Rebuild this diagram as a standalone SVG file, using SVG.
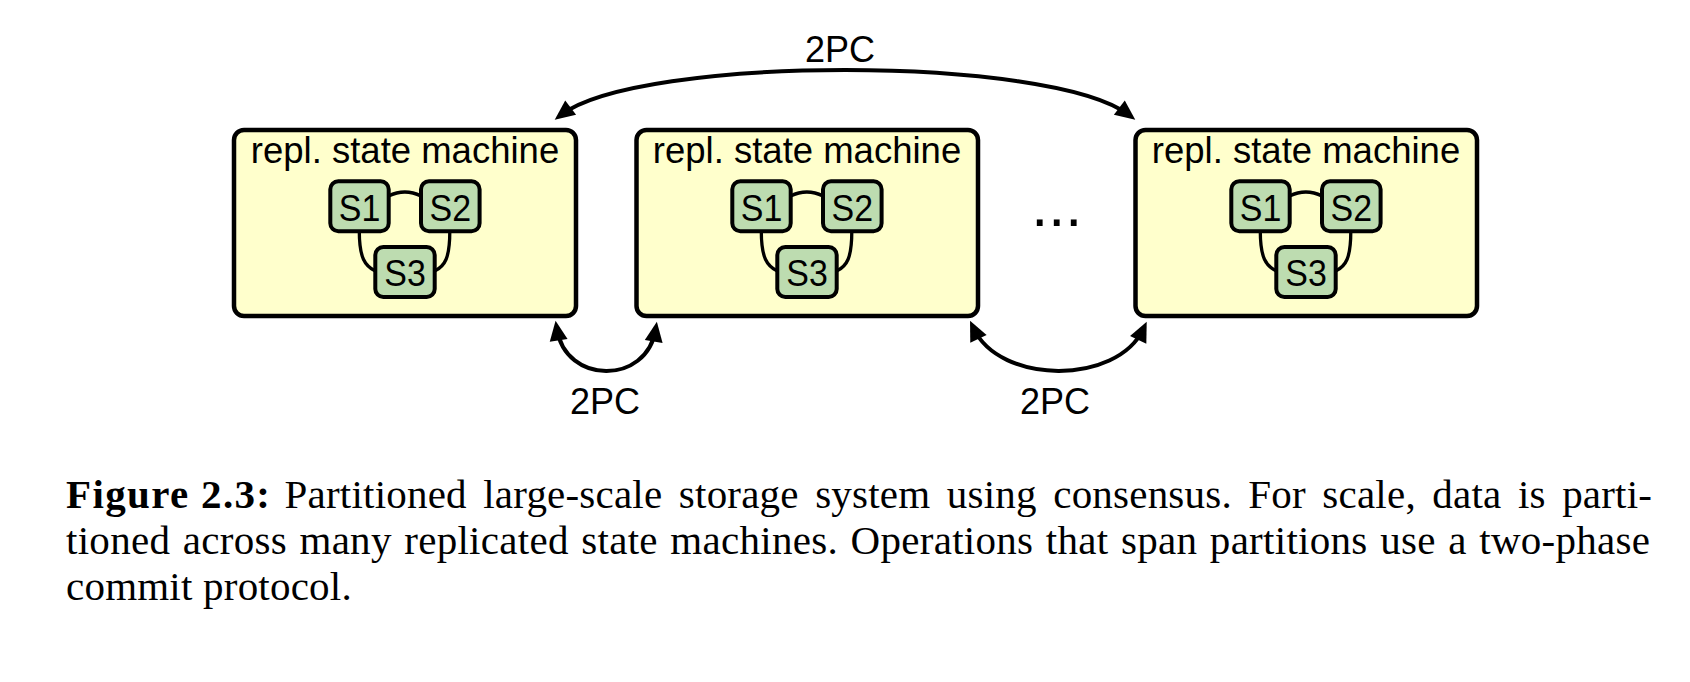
<svg xmlns="http://www.w3.org/2000/svg" width="1690" height="682" viewBox="0 0 1690 682">
<style>
.rsm{fill:#ffffcc;stroke:#000;stroke-width:4.5}
.srv{fill:#bddcb0;stroke:#000;stroke-width:4}
.lbl{font-family:"Liberation Sans",Arial,sans-serif;fill:#000}
.title{font-size:36.5px;text-anchor:middle}
.sl{font-size:37px;text-anchor:middle}
.pc{font-size:36px;text-anchor:middle}
.link{fill:none;stroke:#000;stroke-width:3.3}
.arr{fill:none;stroke:#000;stroke-width:4;marker-start:url(#ah);marker-end:url(#ah)}
.cap{font-family:"Liberation Serif","Times New Roman",serif;font-size:41px;fill:#000}
</style>
<defs>
<marker id="ah" markerUnits="userSpaceOnUse" viewBox="-14 -11 24 22" markerWidth="24" markerHeight="22" refX="0" refY="0" orient="auto-start-reverse">
<path d="M8,0 L-12,-9 L-12,9 z" fill="#000"/>
</marker>
</defs>
<rect width="1690" height="682" fill="#fff"/>
<g id="rsm1"><rect class="rsm" x="234" y="130" width="342" height="186" rx="10"/><text class="lbl title" x="405" y="162.5">repl. state machine</text></g>
<g id="rsm2"><rect class="rsm" x="636.5" y="130" width="341.5" height="186" rx="10"/><text class="lbl title" x="807" y="162.5">repl. state machine</text></g>
<g id="rsm3"><rect class="rsm" x="1135.5" y="130" width="341.5" height="186" rx="10"/><text class="lbl title" x="1306" y="162.5">repl. state machine</text></g>
<g id="ellipsis"><text class="lbl" x="1056.7" y="226" font-size="61" text-anchor="middle">...</text></g>
<g id="connectors">
<path class="link" d="M388.5,196 Q405,188 421,196"/>
<path class="link" d="M359.3,231 C359.3,258 365,266 375.3,271"/>
<path class="link" d="M449.8,231 C449.8,258 445,266 434.7,271"/>
<path class="link" d="M790.5,196 Q807,188 823,196"/>
<path class="link" d="M761.3,231 C761.3,258 767,266 777.3,271"/>
<path class="link" d="M851.8,231 C851.8,258 847,266 836.7,271"/>
<path class="link" d="M1289.5,196 Q1306,188 1322,196"/>
<path class="link" d="M1260.3,231 C1260.3,258 1266,266 1276.3,271"/>
<path class="link" d="M1350.8,231 C1350.8,258 1346,266 1335.7,271"/>
<path class="arr" d="M561.1,114.9 C640,55 1050,55 1128.9,114.9"/>
<path class="arr" d="M556.8,328.6 C565.6,385 646.7,385 655.6,329.6"/>
<path class="arr" d="M973.4,328 C999.8,385 1116.9,385 1143.3,329"/>
<text class="lbl pc" x="840" y="62">2PC</text>
<text class="lbl pc" x="605" y="414">2PC</text>
<text class="lbl pc" x="1055" y="414">2PC</text>
</g>
<g id="s1a"><rect class="srv" x="330.3" y="181.3" width="58.4" height="50" rx="8"/><text class="lbl sl" x="359.5" y="220.5" textLength="41.5" lengthAdjust="spacingAndGlyphs">S1</text></g>
<g id="s2a"><rect class="srv" x="421" y="181.3" width="58.6" height="50" rx="8"/><text class="lbl sl" x="450.3" y="220.5" textLength="41.5" lengthAdjust="spacingAndGlyphs">S2</text></g>
<g id="s3a"><rect class="srv" x="375.3" y="247" width="59.4" height="50" rx="8"/><text class="lbl sl" x="405" y="285.5" textLength="41.5" lengthAdjust="spacingAndGlyphs">S3</text></g>
<g id="s1b"><rect class="srv" x="732.3" y="181.3" width="58.4" height="50" rx="8"/><text class="lbl sl" x="761.5" y="220.5" textLength="41.5" lengthAdjust="spacingAndGlyphs">S1</text></g>
<g id="s2b"><rect class="srv" x="823" y="181.3" width="58.6" height="50" rx="8"/><text class="lbl sl" x="852.3" y="220.5" textLength="41.5" lengthAdjust="spacingAndGlyphs">S2</text></g>
<g id="s3b"><rect class="srv" x="777.3" y="247" width="59.4" height="50" rx="8"/><text class="lbl sl" x="807" y="285.5" textLength="41.5" lengthAdjust="spacingAndGlyphs">S3</text></g>
<g id="s1c"><rect class="srv" x="1231.3" y="181.3" width="58.4" height="50" rx="8"/><text class="lbl sl" x="1260.5" y="220.5" textLength="41.5" lengthAdjust="spacingAndGlyphs">S1</text></g>
<g id="s2c"><rect class="srv" x="1322" y="181.3" width="58.6" height="50" rx="8"/><text class="lbl sl" x="1351.3" y="220.5" textLength="41.5" lengthAdjust="spacingAndGlyphs">S2</text></g>
<g id="s3c"><rect class="srv" x="1276.3" y="247" width="59.4" height="50" rx="8"/><text class="lbl sl" x="1306" y="285.5" textLength="41.5" lengthAdjust="spacingAndGlyphs">S3</text></g>
<g id="caption">
<text class="cap" x="66" y="508" font-weight="bold" textLength="204" lengthAdjust="spacing">Figure 2.3:</text>
<text class="cap" x="284.5" y="508" word-spacing="6" textLength="1367.5" lengthAdjust="spacing">Partitioned large-scale storage system using consensus. For scale, data is parti-</text>
<text class="cap" x="66" y="554" word-spacing="2" textLength="1584" lengthAdjust="spacing">tioned across many replicated state machines. Operations that span partitions use a two-phase</text>
<text class="cap" x="66" y="600" textLength="285.7" lengthAdjust="spacing">commit protocol.</text>
</g>
</svg>
